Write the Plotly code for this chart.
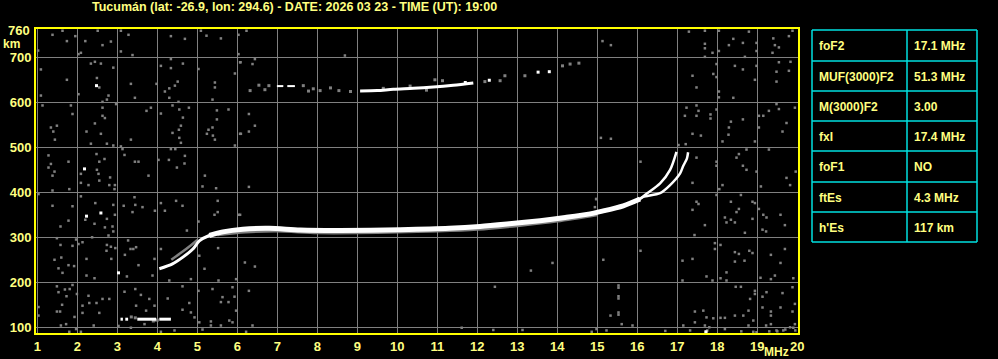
import plotly.graph_objects as go

# ---------------- data ----------------
freq_ticks = list(range(1, 21))
height_ticks = [100, 200, 300, 400, 500, 600, 700]
title_text = "Tucumán (lat: -26.9, lon: 294.6) - DATE: 2026 03 23 - TIME (UT): 19:00"

table_labels = ["foF2", "MUF(3000)F2", "M(3000)F2", "fxI", "foF1", "ftEs", "h'Es"]
table_values = ["17.1 MHz", "51.3 MHz", "3.00", "17.4 MHz", "NO", "4.3 MHz", "117 km"]

# F2 ordinary trace (MHz, km)
f2o_low_f = [4.05, 4.38, 4.64, 4.89, 5.05, 5.30, 5.64]
f2o_low_h = [230, 241, 256, 274, 292, 304, 312]
f2o_mid_f = [5.30, 5.64, 6.14, 6.80, 7.57, 8.57, 10.07, 11.30, 12.07, 12.80, 13.57, 14.20, 14.82, 15.07, 15.65, 16.07]
f2o_mid_h = [304, 312, 318, 320, 316, 315, 317, 320, 324, 330, 337, 344, 352, 357, 370, 385]
f2o_tail_f = [15.65, 16.07, 16.19, 16.57, 16.82, 16.98]
f2o_tail_h = [370, 385, 394, 420, 450, 490]
# F2 extraordinary tail
f2x_tail_f = [16.05, 16.15, 16.57, 16.82, 17.07, 17.15, 17.24, 17.27]
f2x_tail_h = [385, 390, 398, 416, 442, 459, 475, 489]
# grey fringe under the F2 band
f2_fringe_f = [5.50, 6.20, 7.00, 8.00, 9.00, 10.00, 11.00, 12.00, 13.00, 14.00, 15.00]
f2_fringe_h = [307, 313, 315, 311, 311, 313, 315, 319, 327, 337, 351]
# grey low parallel echo
lowx_f = [4.35, 4.60, 4.85, 5.00]
lowx_h = [250, 266, 283, 294]
# sporadic E
es_f = [3.08, 3.14, None, 3.20, 3.27, None, 3.50, 3.97, None, 4.05, 4.34]
es_h = [118, 118, None, 118, 118, None, 118, 118, None, 118, 118]
# second hop F trace
f2m_f = [9.07, 9.50, 9.90, 10.40, 10.90, 11.40, 11.90]
f2m_h = [625, 626, 629, 631, 634, 638, 643]
f2m_seg_f = [6.99, 7.15, None, 7.25, 7.44]
f2m_seg_h = [636, 636, None, 636, 636]

white_dots = [(2.48, 637), (2.18, 452), (2.23, 347), (2.59, 354), (3.03, 221),
              (17.72, 90), (13.52, 667), (13.80, 668), (12.30, 649), (11.70, 644)]

grey_echo = [(6.32, 626), (6.54, 638), (6.69, 628), (6.79, 637), (7.65, 637), (7.78, 625),
             (7.90, 630), (8.07, 626), (8.33, 632), (8.54, 626), (8.83, 624), (9.65, 631),
             (10.32, 636), (10.73, 627), (12.19, 646), (12.57, 648), (14.13, 681), (14.32, 685),
             (14.54, 687), (3.45, 121), (3.90, 114), (4.00, 116), (3.35, 123), (12.69, 659),
             (13.19, 659), (10.94, 650), (11.13, 648)]

noise_left = [
    (1.38, 750), (1.63, 759), (1.74, 736), (1.95, 747), (2.20, 736), (2.51, 759), (2.63, 727),
    (2.84, 735), (3.09, 759), (3.09, 713), (3.28, 750), (3.38, 705), (2.03, 707), (2.09, 710),
    (4.34, 747), (4.69, 741), (5.09, 759), (5.23, 748), (5.59, 742), (6.03, 750), (6.03, 707),
    (1.02, 715), (1.09, 673), (1.74, 650), (2.34, 686), (2.44, 690), (2.59, 686), (2.90, 677),
    (2.49, 654), (2.55, 633), (2.03, 618), (2.78, 615), (2.74, 606), (2.63, 601), (1.09, 615),
    (3.34, 641), (3.44, 610), (4.09, 681), (4.34, 696), (4.34, 676), (4.64, 686), (4.51, 646),
    (4.30, 631), (4.19, 624), (4.44, 637), (4.30, 610), (3.98, 641), (4.53, 601), (5.03, 674),
    (5.44, 644), (5.44, 633), (5.94, 664), (6.08, 689), (5.38, 606), (1.13, 593), (1.84, 593),
    (1.88, 574), (1.34, 544), (1.49, 548), (1.40, 535), (1.44, 517), (2.63, 588), (2.63, 570),
    (2.69, 565), (2.44, 553), (2.23, 535), (2.59, 530), (2.34, 508), (2.74, 508), (2.90, 504),
    (2.97, 596), (3.73, 581), (3.84, 588), (3.34, 517), (4.09, 575), (4.38, 593), (4.55, 584),
    (4.79, 588), (4.64, 566), (4.59, 548), (4.54, 539), (4.38, 532), (4.55, 521), (4.59, 510),
    (5.49, 582), (5.49, 562), (5.78, 584), (5.38, 544), (5.28, 539), (5.24, 530), (5.39, 526),
    (5.44, 517), (6.09, 530), (5.94, 504), (1.28, 482), (1.34, 463), (1.28, 455), (1.43, 446),
    (1.38, 437), (1.78, 468), (2.09, 441), (2.48, 485), (2.55, 468), (2.49, 450), (2.53, 441),
    (2.68, 474), (3.09, 502), (3.13, 496), (3.18, 483), (3.44, 468), (3.53, 468), (3.78, 437),
    (2.82, 433), (4.03, 472), (4.34, 496), (4.45, 496), (4.69, 481), (4.29, 472), (4.68, 464),
    (4.49, 455), (5.19, 437),
    (2.09, 421), (2.28, 416), (2.55, 426), (2.80, 416), (2.94, 416), (2.93, 407), (1.38, 404),
    (1.80, 407), (1.03, 396), (1.38, 370), (1.88, 369), (2.09, 391), (2.45, 376), (2.90, 372),
    (3.16, 370), (3.43, 389), (3.45, 372), (3.38, 356), (3.63, 367), (3.94, 359), (4.09, 376),
    (4.19, 359), (4.47, 381), (1.78, 337), (1.58, 324), (2.20, 339), (2.43, 330), (2.74, 341),
    (2.94, 350), (2.69, 322), (2.88, 324), (2.90, 313), (2.78, 304), (2.37, 300), (1.97, 295),
    (2.03, 285), (2.13, 289), (1.49, 298), (1.58, 283), (1.88, 281), (2.74, 283), (2.73, 270),
    (2.84, 279), (2.95, 276), (3.27, 293), (3.33, 274), (3.40, 274), (3.47, 278), (3.19, 261),
    (3.93, 252), (4.09, 274), (4.63, 370), (5.13, 413), (5.47, 409), (5.51, 381), (5.51, 356),
    (6.03, 350), (5.03, 335), (4.74, 315), (5.43, 350), (5.52, 276), (5.05, 259), (2.85, 252),
    (2.23, 252), (1.60, 255), (1.43, 250), (1.78, 238), (1.53, 231), (1.63, 221), (1.92, 236),
    (2.23, 215), (2.43, 209), (3.24, 213), (3.53, 238), (3.88, 215), (4.30, 204), (4.84, 207),
    (5.18, 230), (5.53, 204), (5.88, 189), (5.97, 207), (1.49, 191), (1.53, 178), (1.69, 184),
    (1.81, 185), (1.88, 194), (1.73, 169), (1.99, 174), (2.28, 170), (2.30, 154), (2.48, 154),
    (2.63, 163), (2.55, 132), (2.13, 148), (2.13, 132), (1.93, 123), (1.62, 150), (1.57, 135),
    (1.49, 135), (1.03, 145), (1.03, 126), (1.59, 104), (1.72, 107), (1.80, 90), (1.97, 96),
    (2.09, 90), (2.41, 104), (2.80, 163), (3.18, 179), (3.45, 185), (3.59, 172), (3.80, 163),
    (3.47, 148), (3.72, 137), (3.93, 148), (4.26, 164), (4.63, 191), (5.03, 181), (5.38, 185),
    (5.63, 167), (5.59, 156), (5.78, 156), (5.93, 168), (5.97, 137), (5.80, 115), (5.88, 111),
    (5.34, 113), (5.13, 95), (5.34, 104), (5.59, 104), (4.63, 139), (4.80, 154), (4.84, 133),
    (4.93, 122), (5.05, 111), (4.43, 93), (4.09, 90), (3.93, 115), (3.68, 107), (3.34, 99),
    (3.03, 103),
]

noise_mid = [
    (6.23, 759), (8.69, 704), (6.07, 689), (6.38, 685), (6.44, 696), (6.29, 574), (6.44, 548),
    (6.29, 535), (6.07, 530), (6.29, 412), (6.07, 350), (6.19, 244), (6.44, 235), (6.29, 181),
    (6.38, 104), (6.22, 90), (12.44, 190), (13.34, 226), (13.88, 243), (11.61, 99), (12.40, 94),
    (13.13, 94), (14.86, 90), (14.98, 385), (14.94, 367),
]

noise_right = [
    (15.13, 736), (15.34, 727), (17.29, 757), (17.69, 759), (18.04, 759), (17.69, 730), (17.69, 720),
    (17.88, 710), (18.04, 714), (17.69, 701), (18.29, 727), (18.40, 741), (18.64, 732), (18.79, 757),
    (18.98, 732), (18.98, 714), (18.98, 681), (18.69, 701), (19.40, 742), (19.44, 727), (19.54, 722),
    (19.79, 747), (19.38, 710), (19.88, 759), (17.98, 685), (17.90, 663), (17.98, 656), (18.44, 681),
    (18.64, 673), (18.94, 650), (19.54, 689), (19.83, 690), (19.48, 668), (19.79, 670), (19.48, 646),
    (17.38, 659), (17.48, 633), (18.04, 624), (18.04, 611), (18.40, 610), (17.23, 588), (17.48, 593),
    (17.53, 581), (17.19, 570), (17.48, 570), (17.83, 573), (17.83, 564), (17.98, 584), (18.34, 557),
    (18.64, 562), (18.29, 544), (18.28, 528), (18.13, 513), (19.04, 570), (19.15, 570), (19.29, 581),
    (19.54, 585), (19.48, 596), (19.73, 554), (19.63, 535), (19.04, 544), (18.94, 513), (17.38, 530),
    (17.59, 526), (15.09, 521), (15.34, 519), (17.21, 507), (17.03, 505), (17.48, 477), (17.98, 468),
    (17.98, 459), (18.48, 477), (18.54, 485), (18.73, 495), (18.64, 459), (18.73, 450), (19.29, 495),
    (18.98, 446), (19.73, 432), (19.96, 446), (19.94, 588), (16.08, 468),
    (14.97, 385), (17.38, 421), (18.13, 416), (18.05, 407), (17.98, 394), (18.59, 394), (19.09, 413),
    (19.82, 416), (17.48, 379), (17.53, 374), (17.38, 361), (18.34, 379), (18.48, 356), (18.54, 363),
    (18.19, 344), (18.23, 333), (18.34, 339), (18.44, 333), (18.88, 379), (18.94, 376), (19.04, 363),
    (19.15, 350), (19.23, 344), (18.88, 341), (19.58, 350), (19.69, 327), (19.13, 317), (19.22, 313),
    (18.69, 310), (17.69, 327), (17.43, 305), (17.94, 287), (17.94, 274), (18.08, 283), (18.44, 267),
    (18.44, 246), (18.54, 263), (18.68, 248), (18.80, 270), (18.88, 265), (19.34, 261), (19.58, 243),
    (19.69, 274), (15.15, 250), (16.08, 270), (17.13, 248), (17.38, 252), (17.13, 204), (17.73, 213),
    (17.88, 204), (18.08, 209), (18.23, 204), (18.23, 222), (18.46, 190), (18.59, 190), (18.94, 181),
    (18.94, 174), (18.82, 163), (19.13, 168), (19.23, 178), (19.63, 176), (19.88, 189), (19.94, 152),
    (19.08, 210), (19.34, 207), (19.44, 215), (19.90, 209), (15.53, 193), (15.53, 188), (15.53, 169),
    (15.53, 164), (15.53, 133), (15.53, 128), (15.33, 126), (15.61, 107), (15.88, 104), (15.23, 93),
    (14.98, 96), (17.15, 104), (17.32, 93), (17.44, 135), (17.65, 137), (17.44, 111), (17.73, 122),
    (17.90, 120), (17.69, 104), (17.80, 100), (18.08, 121), (18.19, 121), (18.44, 126), (18.65, 126),
    (18.78, 137), (18.90, 115), (18.78, 104), (19.13, 144), (19.34, 135), (19.34, 126), (19.58, 144),
    (19.88, 135), (19.22, 104), (19.34, 107), (19.65, 93), (19.82, 100), (19.94, 107), (19.48, 93),
    (18.98, 89), (18.19, 96), (19.30, 91), (19.50, 91), (19.70, 95), (19.90, 99), (19.95, 93),
    (18.90, 90), (18.60, 91), (17.75, 93), (17.70, 90), (16.70, 92),
]

# ---------------- styling constants ----------------
YELLOW_TXT = "#FFFF80"
YELLOW_AX = "#FFFF00"
GREY = "#808080"
CYAN = "#00E0E0"
FONT = "Liberation Sans"

PLOT_L, PLOT_R, PLOT_T, PLOT_B = 36, 798, 29, 333
PLOT_W = PLOT_R - PLOT_L
PLOT_H = PLOT_B - PLOT_T


def px(xp):
    return (xp - PLOT_L) / PLOT_W


def py(yp):
    return (PLOT_B - yp) / PLOT_H


fig = go.Figure()


def add_line(f, h, color, width, shape="spline"):
    fig.add_trace(go.Scatter(x=f, y=h, mode="lines",
                             line=dict(color=color, width=width, shape=shape, smoothing=0.8),
                             hoverinfo="skip", connectgaps=False))


def add_dots(pairs, color, size):
    fig.add_trace(go.Scatter(x=[p[0] for p in pairs], y=[p[1] for p in pairs], mode="markers",
                             marker=dict(symbol="square", size=size, color=color, line=dict(width=0)),
                             hoverinfo="skip"))


add_dots(noise_left, GREY, 2.5)
add_dots(noise_mid, GREY, 2.5)
add_dots(noise_right, GREY, 2.5)
add_dots(grey_echo, GREY, 3)
add_line(f2_fringe_f, f2_fringe_h, GREY, 4)
add_line(lowx_f, lowx_h, GREY, 2.5)
add_line(f2o_low_f, f2o_low_h, "white", 3)
add_line(f2o_mid_f, f2o_mid_h, "white", 5)
add_line(f2o_tail_f, f2o_tail_h, "white", 2.5)
add_line(f2x_tail_f, f2x_tail_h, "white", 2.5)
add_line(es_f, es_h, "white", 3, shape="linear")
add_line(f2m_f, f2m_h, "white", 3)
add_line(f2m_seg_f, f2m_seg_h, "white", 2, shape="linear")
add_dots(white_dots, "white", 3)

tick_font = dict(family=FONT, size=13, color=YELLOW_TXT, weight="bold")

fig.update_xaxes(range=[0.9675, 20.0175], tickvals=freq_ticks, ticktext=[str(v) for v in freq_ticks],
                 showgrid=True, gridcolor=GREY, gridwidth=1, zeroline=False, automargin=False,
                 showline=True, linecolor=YELLOW_AX, linewidth=2, mirror=True, ticks="",
                 tickfont=tick_font, fixedrange=True)
fig.update_yaxes(range=[87.3, 762.9], tickvals=height_ticks, ticktext=[str(v) for v in height_ticks],
                 showgrid=True, gridcolor=GREY, gridwidth=1, zeroline=False, automargin=False,
                 showline=True, linecolor=YELLOW_AX, linewidth=2, mirror=True, ticks="",
                 tickfont=tick_font, fixedrange=True)

annotations = [
    dict(text=title_text, xref="paper", yref="paper", x=px(90), y=py(7), xanchor="left", yanchor="middle",
         showarrow=False, font=dict(family=FONT, size=12.5, color=YELLOW_TXT, weight="bold")),
    dict(text="760", xref="paper", yref="y", x=px(32), y=760, xanchor="right", yanchor="middle",
         showarrow=False, font=tick_font),
    dict(text="km", xref="paper", yref="paper", x=px(22), y=py(44), xanchor="right", yanchor="middle",
         showarrow=False, font=dict(family=FONT, size=12, color=YELLOW_TXT, weight="bold")),
    dict(text="MHz", xref="paper", yref="paper", x=px(776), y=py(352), xanchor="center", yanchor="middle",
         showarrow=False, font=dict(family=FONT, size=12, color=YELLOW_TXT, weight="bold")),
]

# table on the right
tbl_left, tbl_mid, tbl_right = 812, 907, 977
row_edges = [30, 61, 91, 121, 151, 182, 212, 242]
shapes = []
for ye in row_edges:
    shapes.append(dict(type="line", xref="paper", yref="paper", x0=px(tbl_left), x1=px(tbl_right),
                       y0=py(ye), y1=py(ye), line=dict(color=CYAN, width=1.5)))
for xe in (tbl_left, tbl_mid, tbl_right):
    shapes.append(dict(type="line", xref="paper", yref="paper", x0=px(xe), x1=px(xe),
                       y0=py(row_edges[0]), y1=py(row_edges[-1]), line=dict(color=CYAN, width=1.5)))

table_font = dict(family=FONT, size=12, color=YELLOW_TXT, weight="bold")
for i, (lab, val) in enumerate(zip(table_labels, table_values)):
    yc = (row_edges[i] + row_edges[i + 1]) / 2 + 0.5
    annotations.append(dict(text=lab, xref="paper", yref="paper", x=px(tbl_left + 5), y=py(yc),
                            xanchor="left", yanchor="middle", showarrow=False, font=table_font))
    annotations.append(dict(text=val, xref="paper", yref="paper", x=px(tbl_mid + 5), y=py(yc),
                            xanchor="left", yanchor="middle", showarrow=False, font=table_font))

fig.update_layout(width=998, height=359, margin=dict(l=PLOT_L, r=998 - PLOT_R, t=PLOT_T, b=359 - PLOT_B),
                  paper_bgcolor="black", plot_bgcolor="black", showlegend=False,
                  annotations=annotations, shapes=shapes)

fig.write_html("out.html", config={"displayModeBar": False})
